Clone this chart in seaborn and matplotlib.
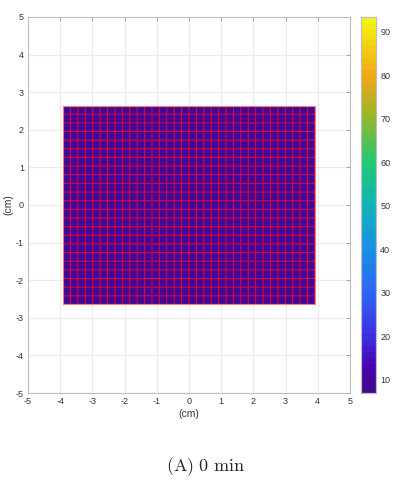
import matplotlib
matplotlib.use('Agg')
import matplotlib.pyplot as plt
from matplotlib.colors import LinearSegmentedColormap
import seaborn as sns
import numpy as np
import pandas as pd

# grid of surface cells (cm) at t = 0 min, all at the start temperature
x_edges = [round(-3.91 + 0.23 * i, 3) for i in range(35)]
y_edges = [round(-2.645 + 0.23 * j, 3) for j in range(24)]
start_temp = 9.0
t_min, t_max = 7.0, 93.4
cbar_ticks = [10, 20, 30, 40, 50, 60, 70, 80, 90]
axis_ticks = [-5, -4, -3, -2, -1, 0, 1, 2, 3, 4, 5]

# colour stops
cmap_vals = [7, 12, 20, 30, 40, 50, 60, 70, 80, 93.4]
cmap_cols = ['#3f0a8f', '#4a00ac', '#3d30e6', '#2f66f2', '#1790e6', '#11b3b5',
             '#1fca78', '#8db82e', '#f2a516', '#f5f50f']

sns.set_style('whitegrid')
plt.rcParams['font.family'] = ['Liberation Sans', 'DejaVu Sans']
plt.rcParams['mathtext.fontset'] = 'cm'
plt.rcParams['axes.unicode_minus'] = False

pos = [(v - t_min) / (t_max - t_min) for v in cmap_vals]
cmap = LinearSegmentedColormap.from_list('temp', list(zip(pos, cmap_cols)), N=64)

n_rows, n_cols = len(y_edges) - 1, len(x_edges) - 1
temps = pd.DataFrame(np.full((n_rows, n_cols), start_temp))

fig = plt.figure(figsize=(4.17, 4.98), dpi=100)
ax = fig.add_axes([28 / 417, 105 / 498, 322 / 417, 376 / 498])
cax = fig.add_axes([361 / 417, 105 / 498, 15 / 417, 376 / 498])

ax.set_xlim(-5, 5)
ax.set_ylim(-5, 5)
ax.set_xticks(axis_ticks)
ax.set_yticks(axis_ticks)
ax.grid(True, color='#ebebeb', linewidth=0.8)
for s in ax.spines.values():
    s.set_color('#bdbdbd')
    s.set_linewidth(0.8)
ax.tick_params(direction='in', length=3, width=0.6, color='#9a9a9a',
               labelsize=6.5, labelcolor='#333333', pad=3, top=True, right=True,
               labeltop=False, labelright=False)
ax.set_xlabel('(cm)', fontsize=7.5, color='#333333', labelpad=2)
ax.set_ylabel('(cm)', fontsize=7.5, color='#333333', labelpad=2)

# heatmap placed over the cell extent in data coordinates
hax = ax.inset_axes([x_edges[0], y_edges[0], x_edges[-1] - x_edges[0], y_edges[-1] - y_edges[0]],
                    transform=ax.transData)
sns.heatmap(temps, ax=hax, cmap=cmap, vmin=t_min, vmax=t_max, linewidths=0,
            cbar=True, cbar_ax=cax, xticklabels=False, yticklabels=False)
# single red mesh lines between cells
vl = hax.vlines(range(n_cols + 1), 0, n_rows, color='#d8083f', linewidth=0.75)
hl = hax.hlines(range(n_rows + 1), 0, n_cols, color='#d8083f', linewidth=0.75)
for lc in (vl, hl):
    lc.set_snap(False)
    lc.set_antialiased(True)
hax.set_xlim(0, n_cols)
hax.set_ylim(n_rows, 0)
hax.set_xlabel('')
hax.set_ylabel('')
for s in hax.spines.values():
    s.set_visible(True)
    s.set_color('#f08080')
    s.set_linewidth(0.8)

cax.set_yticks(cbar_ticks)
cax.tick_params(direction='in', length=2.5, width=0.6, color='#9a9a9a', labelsize=6.5,
                labelcolor='#333333', pad=3)
for s in cax.spines.values():
    s.set_visible(True)
    s.set_color('#bdbdbd')
    s.set_linewidth(0.8)

fig.text(205 / 417, 1 - 467 / 498, r'$\mathrm{(A)\ 0\ min}$', fontsize=13,
         ha='center', va='center')

fig.savefig('out.png', dpi=100)
